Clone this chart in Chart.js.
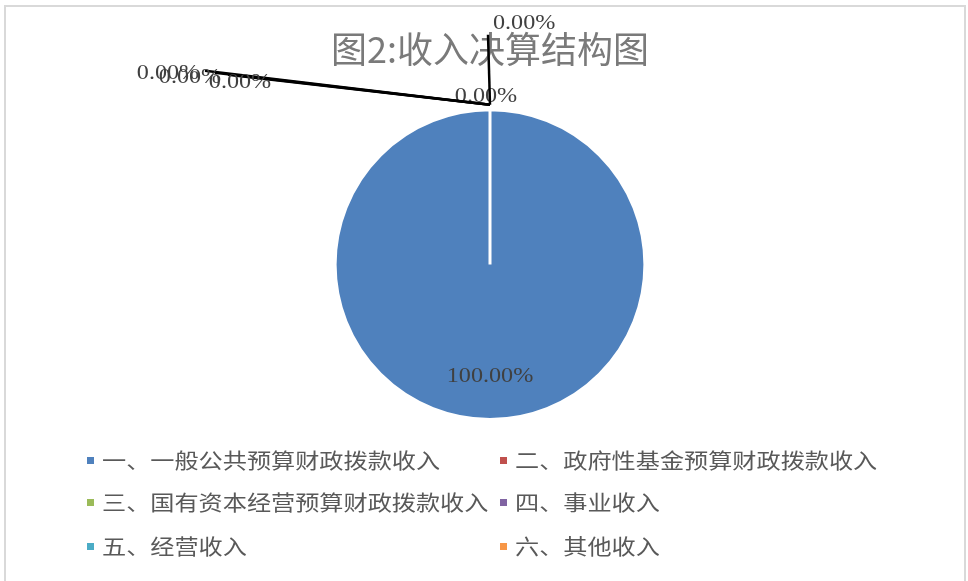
<!DOCTYPE html>
<html>
<head>
<meta charset="utf-8">
<script src="https://cdn.jsdelivr.net/npm/chart.js@4/dist/chart.umd.min.js"></script>
<style>
    html, body { margin: 0; padding: 0; background: #fff; }
    #wrap { width: 968px; height: 581px; position: relative; }
</style>
</head>
<body>
<div id="wrap"><canvas id="incomeChart"></canvas></div>
<script>
// Chart data
const chartTitle = '图2:收入决算结构图';
const categories = [
    '一、一般公共预算财政拨款收入',
    '二、政府性基金预算财政拨款收入',
    '三、国有资本经营预算财政拨款收入',
    '四、事业收入',
    '五、经营收入',
    '六、其他收入'
];
const shares = [100, 0, 0, 0, 0, 0];
const sliceColors = ['#4F81BD', '#C0504D', '#9BBB59', '#8064A2', '#4BACC6', '#F79646'];

// Where each data label sits (offsets from the slice's outer edge point, px)
const labelSpots = [
    { inside: 0.72 },
    { dx: -4, dy: -13, align: 'center' },
    { dx: 3, dy: -86, align: 'left', lineTo: [-2, -70] },
    { dx: -322, dy: -36, align: 'center', lineTo: [-285, -34] },
    { dx: -300, dy: -32, align: 'center', lineTo: [-275, -32] },
    { dx: -250, dy: -27, align: 'center', lineTo: [-262, -30] }
];

const STRETCH = 1.15;

function stretchedText(ctx, text, x, y, align) {
    ctx.save();
    ctx.translate(x, y);
    ctx.scale(STRETCH, 1);
    ctx.textAlign = align;
    ctx.fillText(text, 0, 0);
    ctx.restore();
}

// Frame round the whole chart
const framePlugin = {
    id: 'frame',
    beforeDraw(chart) {
        const ctx = chart.ctx;
        ctx.save();
        ctx.strokeStyle = '#d9d9d9';
        ctx.lineWidth = 2;
        ctx.strokeRect(5, 6, chart.width - 8, chart.height + 20);
        ctx.restore();
    }
};

// Data labels with leader lines
const labelPlugin = {
    id: 'sliceLabels',
    afterDatasetsDraw(chart) {
        const ctx = chart.ctx;
        const meta = chart.getDatasetMeta(0);
        const total = shares.reduce((a, b) => a + b, 0);
        ctx.save();
        ctx.font = '21px "Liberation Serif", "DejaVu Serif", serif';
        ctx.textBaseline = 'middle';
        meta.data.forEach((arc, i) => {
            const spot = labelSpots[i];
            const mid = (arc.startAngle + arc.endAngle) / 2;
            const r = arc.outerRadius;
            const text = (shares[i] / total * 100).toFixed(2) + '%';
            ctx.fillStyle = '#404040';
            if (spot.inside) {
                const x = arc.x + Math.cos(mid) * r * spot.inside;
                const y = arc.y + Math.sin(mid) * r * spot.inside;
                stretchedText(ctx, text, x, y, 'center');
                return;
            }
            const ex = arc.x + Math.cos(mid) * r;
            const ey = arc.y + Math.sin(mid) * r - 5;
            if (spot.lineTo) {
                ctx.strokeStyle = '#000';
                ctx.lineWidth = 2.5;
                ctx.beginPath();
                ctx.moveTo(ex, ey);
                ctx.lineTo(ex + spot.lineTo[0], ey + spot.lineTo[1]);
                ctx.stroke();
            }
            stretchedText(ctx, text, ex + spot.dx, ey + spot.dy + 5, spot.align);
        });
        ctx.restore();
    }
};

// Two-column legend below the pie
const legendPlugin = {
    id: 'twoColLegend',
    afterDraw(chart) {
        const ctx = chart.ctx;
        const colX = [87, 500];
        const rowY = [460, 502, 546];
        ctx.save();
        ctx.font = '21px "Noto Sans CJK SC", sans-serif';
        ctx.textBaseline = 'middle';
        categories.forEach((name, i) => {
            const x = colX[i % 2];
            const y = rowY[Math.floor(i / 2)];
            ctx.fillStyle = sliceColors[i];
            ctx.fillRect(x, y - 3, 7, 7);
            ctx.fillStyle = '#595959';
            stretchedText(ctx, name, x + 15, y, 'left');
        });
        ctx.restore();
    }
};

const ctx = document.getElementById('incomeChart').getContext('2d');
const chart = new Chart(ctx, {
    type: 'pie',
    data: {
        labels: categories,
        datasets: [{
            data: shares,
            backgroundColor: sliceColors,
            borderColor: '#ffffff',
            borderWidth: 3
        }]
    },
    options: {
        responsive: true,
        maintainAspectRatio: false,
        animation: false,
        events: [],
        layout: {
            padding: { top: 28, bottom: 160, left: 12, right: 0 }
        },
        plugins: {
            legend: { display: false },
            tooltip: { enabled: false },
            title: {
                display: true,
                text: chartTitle,
                color: '#7a7a7a',
                font: { family: '"Noto Sans CJK SC", sans-serif', size: 36, weight: 'normal', lineHeight: 1.2 },
                padding: { top: 0, bottom: 37 }
            }
        }
    },
    plugins: [framePlugin, labelPlugin, legendPlugin]
});
</script>
</body>
</html>
